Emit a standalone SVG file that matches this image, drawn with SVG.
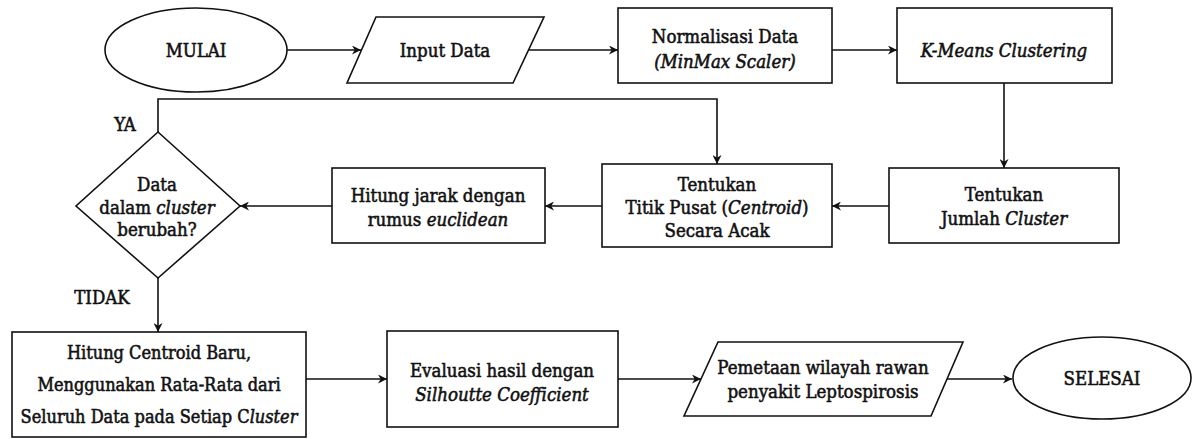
<svg xmlns="http://www.w3.org/2000/svg" width="1192" height="439" viewBox="0 0 1192 439" font-family="DejaVu Serif Condensed, DejaVu Serif, serif">
<defs>
<marker id="arr" viewBox="0 0 10 10" refX="10" refY="5" markerWidth="9" markerHeight="9" markerUnits="userSpaceOnUse" orient="auto">
<path d="M0,0 L10,5 L0,10 L3,5 z" fill="#111"/>
</marker>
<style>
.s{fill:#fff;stroke:#111;stroke-width:1.6}
.c{fill:none;stroke:#111;stroke-width:1.6;marker-end:url(#arr)}
text{font-family:'DejaVu Serif Condensed','DejaVu Serif',serif;font-size:18.5px;font-weight:normal;fill:#111;stroke:#111;stroke-width:0.55;text-anchor:middle;dominant-baseline:central}
.i{font-style:italic}
.sm{font-size:18px}
</style>
</defs>
<rect width="1192" height="439" fill="#fff"/>
<g id="connectors">
<line class="c" x1="287" y1="50" x2="361" y2="50"/>
<line class="c" x1="528" y1="50" x2="618" y2="50"/>
<line class="c" x1="832" y1="50" x2="897" y2="50"/>
<line class="c" x1="1004" y1="83" x2="1004" y2="168"/>
<line class="c" x1="889" y1="206" x2="832" y2="206"/>
<line class="c" x1="602" y1="206" x2="545" y2="206"/>
<line class="c" x1="332" y1="206" x2="240" y2="206"/>
<polyline class="c" points="158,132 158,99 717,99 717,164"/>
<line class="c" x1="158" y1="278" x2="158" y2="332"/>
<line class="c" x1="306" y1="379" x2="387" y2="379"/>
<line class="c" x1="618" y1="379" x2="701" y2="379"/>
<line class="c" x1="947" y1="379" x2="1012" y2="379"/>
<text x="125" y="124">YA</text>
<text x="102" y="297">TIDAK</text>
</g>
<g id="mulai">
<ellipse class="s" cx="196" cy="50" rx="91" ry="42"/>
<text x="196" y="50">MULAI</text>
</g>
<g id="input-data">
<polygon class="s" points="376,17 544,17 513,83 347,83"/>
<text x="445" y="50">Input Data</text>
</g>
<g id="normalisasi">
<rect class="s" x="618" y="8" width="214" height="75"/>
<text x="725" y="36">Normalisasi Data</text>
<text x="725" y="61" class="i">(MinMax Scaler)</text>
</g>
<g id="kmeans">
<rect class="s" x="897" y="8" width="215" height="75"/>
<text x="1004" y="50" class="i">K-Means Clustering</text>
</g>
<g id="jumlah-cluster">
<rect class="s" x="889" y="168" width="230" height="75"/>
<text x="1004" y="194">Tentukan</text>
<text x="1004" y="218">Jumlah <tspan class="i">Cluster</tspan></text>
</g>
<g id="titik-pusat">
<rect class="s" x="602" y="164" width="230" height="83"/>
<text x="717" y="184">Tentukan</text>
<text x="717" y="207">Titik Pusat (<tspan class="i">Centroid</tspan>)</text>
<text x="717" y="230">Secara Acak</text>
</g>
<g id="hitung-jarak">
<rect class="s" x="332" y="168" width="213" height="75"/>
<text x="438" y="195">Hitung jarak dengan</text>
<text x="438" y="219">rumus <tspan class="i">euclidean</tspan></text>
</g>
<g id="decision">
<polygon class="s" points="158,132 240,206 158,278 76,206"/>
<text x="157" y="184">Data</text>
<text x="157" y="207">dalam <tspan class="i">cluster</tspan></text>
<text x="157" y="229">berubah?</text>
</g>
<g id="hitung-centroid">
<rect class="s" x="12" y="332" width="294" height="105"/>
<text class="sm" x="159" y="352">Hitung Centroid Baru,</text>
<text class="sm" x="159" y="384">Menggunakan Rata-Rata dari</text>
<text class="sm" x="159" y="416">Seluruh Data pada Setiap C<tspan class="i">luster</tspan></text>
</g>
<g id="evaluasi">
<rect class="s" x="387" y="331" width="231" height="96"/>
<text x="502" y="370">Evaluasi hasil dengan</text>
<text x="502" y="394" class="i">Silhoutte Coefficient</text>
</g>
<g id="pemetaan">
<polygon class="s" points="718,342 963,342 931,416 684,416"/>
<text x="823" y="367">Pemetaan wilayah rawan</text>
<text x="823" y="391">penyakit Leptospirosis</text>
</g>
<g id="selesai">
<ellipse class="s" cx="1102" cy="378" rx="89" ry="41"/>
<text x="1102" y="378">SELESAI</text>
</g>
</svg>
